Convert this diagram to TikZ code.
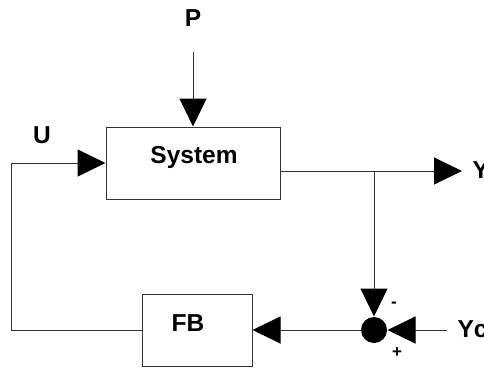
\documentclass[tikz,border=0pt]{standalone}
\usepackage{fontspec}
\setmainfont{Liberation Sans}
\usetikzlibrary{arrows.meta,calc}
\begin{document}
\begin{tikzpicture}[x=1pt,y=-1pt,
  line width=1pt,
  wire/.style={draw=black!80},
  arr/.style={wire,-{Triangle[length=28pt,width=27pt,color=black]}},
  blk/.style={draw=black!80,rectangle,minimum width=174pt,minimum height=72pt,inner sep=0pt},
  lbl/.style={font=\fontsize{24.5}{28}\selectfont\bfseries,inner sep=0pt},
  sgn/.style={font=\fontsize{17}{19}\selectfont\bfseries,inner sep=0pt}]
\useasboundingbox (0,0) rectangle (484,367);
% blocks
\node[blk] (system) at (193,163) {};
\node[lbl] (systemtxt) at (194,157) {System};
\node[blk,minimum width=110pt] (fb) at (197,330) {};
\node[lbl] (fbtxt) at (188,323) {FB};
\node[circle,fill=black,inner sep=0pt,minimum size=26pt] (sum) at (374,330) {};
% labels
\node[lbl] (plbl) at (193,18) {P};
\node[lbl] (ulbl) at (42,135) {U};
\node[lbl,anchor=west] (ylbl) at (472,170) {Y};
\node[lbl,anchor=west] (yclbl) at (457,329) {Yc};
\node[sgn] (minus) at (394,305) {-};
\node[sgn] (plus) at (397,353) {+};
% coordinates
\coordinate (ptop) at (193,52);
\coordinate (yend) at (462,171);
\coordinate (j) at (374,171);
\coordinate (ycs) at (447,330);
\coordinate (bl) at (11,330);
\coordinate (tl) at (11,163);
% connectors
\draw[arr] (ptop) -- (system.north);
\draw[wire] (system.east |- yend) -- (j);
\draw[arr] (j) -- (yend);
\draw[arr] (j) -- (sum.north);
\draw[arr] (ycs) -- (sum.east);
\draw[arr] (sum.west) -- (fb.east);
\draw[arr] (fb.west) -- (bl) -- (tl) -- (system.west);
\end{tikzpicture}
\end{document}
